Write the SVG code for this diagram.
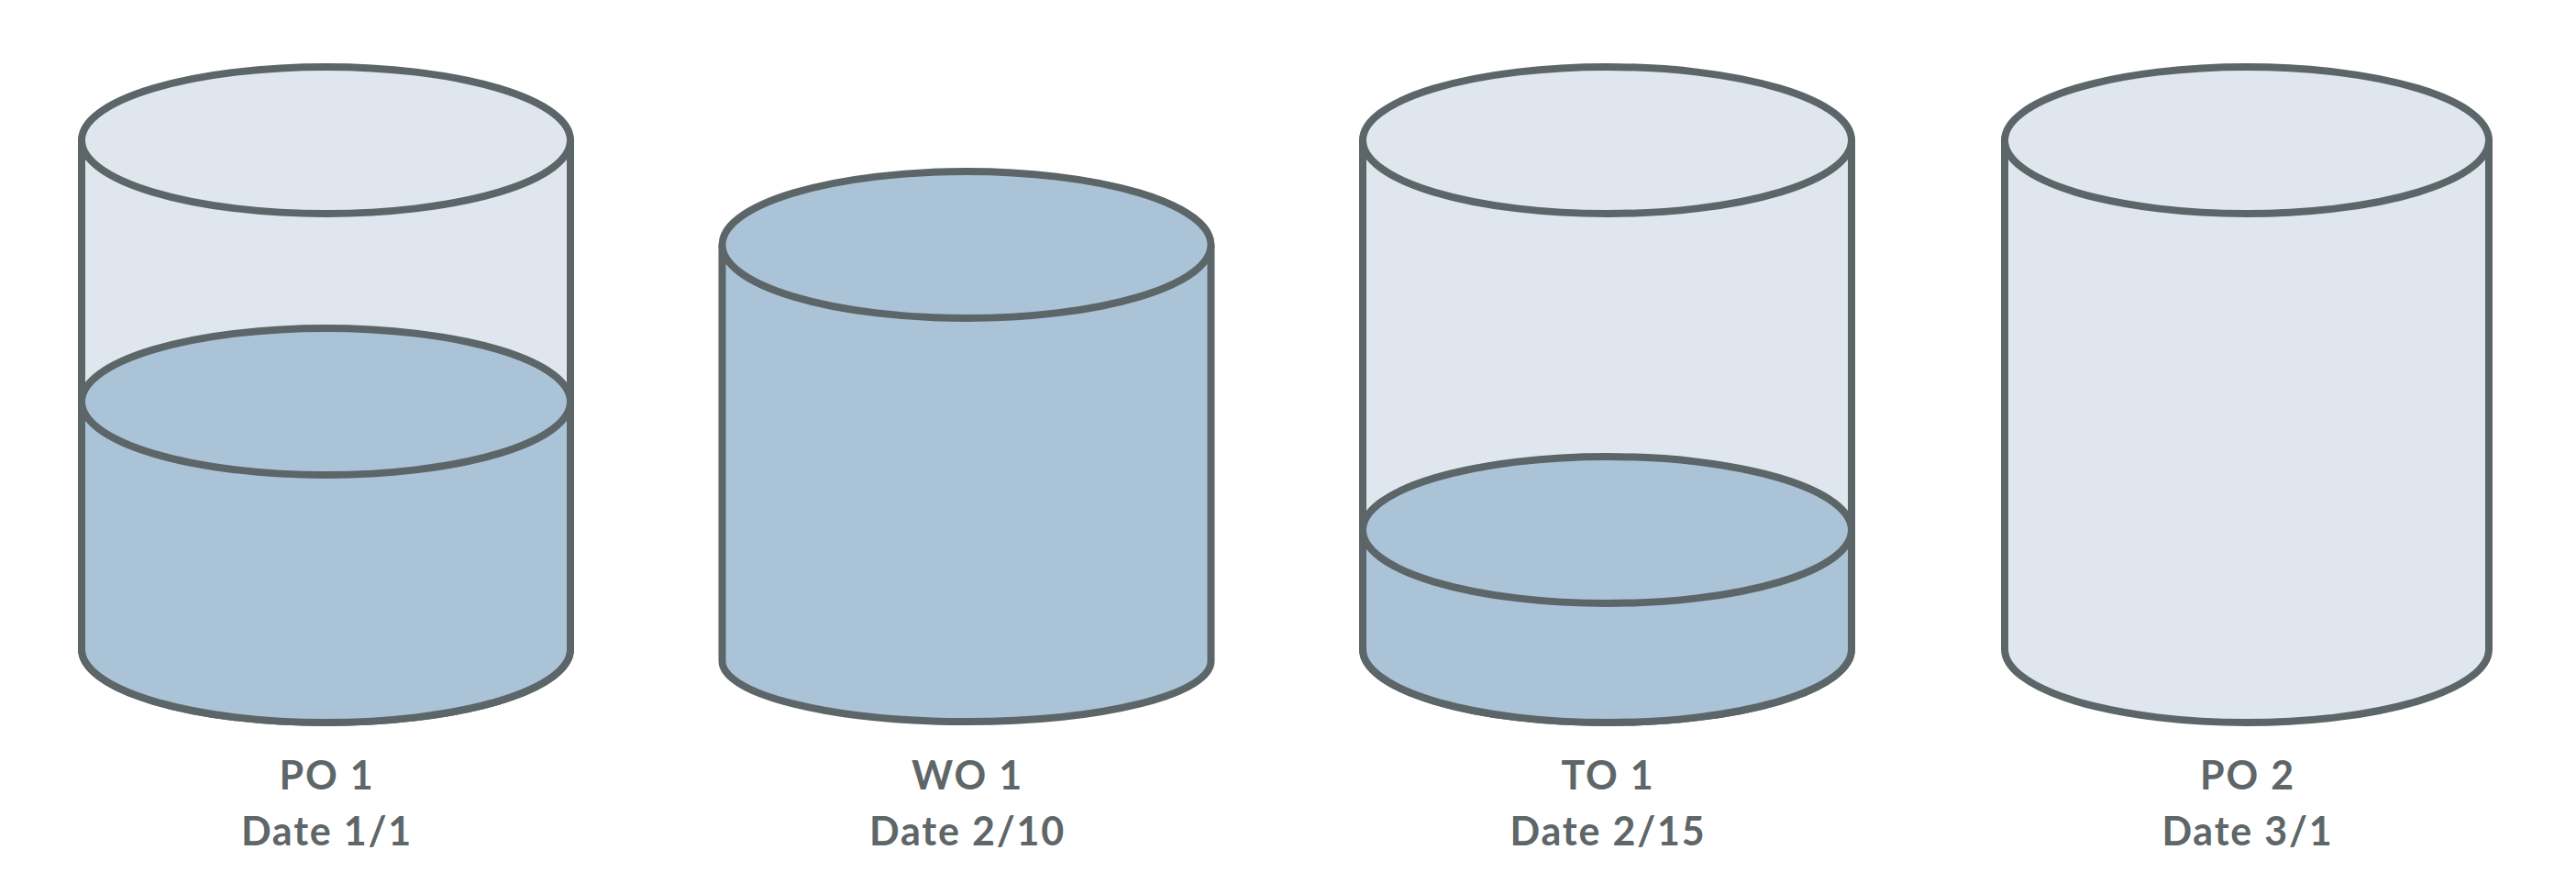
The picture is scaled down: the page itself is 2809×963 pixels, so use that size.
<svg xmlns="http://www.w3.org/2000/svg" width="2809" height="963" viewBox="0 0 2809 963">
<style>
.body{fill:#dfe6ee;stroke:#5c6568;stroke-width:8;stroke-linejoin:round}
.liq{fill:#abc3d6;stroke:none}
.liqtop{fill:#abc3d6;stroke:#5c6568;stroke-width:8}
.top{fill:#dfe6ee;stroke:#5c6568;stroke-width:8}
.outline{fill:none;stroke:#5c6568;stroke-width:8;stroke-linejoin:round}
.lbl{font-family:Lato,"Liberation Sans",sans-serif;font-weight:700;font-size:43px;letter-spacing:1.8px;fill:#5e6668;text-anchor:middle}
</style>
<rect width="2809" height="963" fill="#ffffff"/>
<g id="po1">
<path class="body" d="M89,153 L89,708 A266.5,80 0 0 0 622,708 L622,153 Z"/>
<path class="liq" d="M89,438 L89,708 A266.5,80 0 0 0 622,708 L622,438 Z"/>
<path class="outline" d="M89,153 L89,708 A266.5,80 0 0 0 622,708 L622,153"/>
<ellipse class="liqtop" cx="355.5" cy="438" rx="266.5" ry="80"/>
<ellipse class="top" cx="355.5" cy="153" rx="266.5" ry="80"/>
<text class="lbl" x="356.5" y="861">PO 1</text>
<text class="lbl" x="356.5" y="922">Date 1/1</text>
</g>
<g id="wo1">
<path class="liq" d="M787.5,267 L787.5,721 A266.5,66 0 0 0 1320.5,721 L1320.5,267 Z"/>
<path class="outline" d="M787.5,267 L787.5,721 A266.5,66 0 0 0 1320.5,721 L1320.5,267"/>
<ellipse class="liqtop" cx="1054" cy="267" rx="266.5" ry="80"/>
<text class="lbl" x="1055" y="861">WO 1</text>
<text class="lbl" x="1055" y="922">Date 2/10</text>
</g>
<g id="to1">
<path class="body" d="M1486,153 L1486,708 A266.5,80 0 0 0 2019,708 L2019,153 Z"/>
<path class="liq" d="M1486,578 L1486,708 A266.5,80 0 0 0 2019,708 L2019,578 Z"/>
<path class="outline" d="M1486,153 L1486,708 A266.5,80 0 0 0 2019,708 L2019,153"/>
<ellipse class="liqtop" cx="1752.5" cy="578" rx="266.5" ry="80"/>
<ellipse class="top" cx="1752.5" cy="153" rx="266.5" ry="80"/>
<text class="lbl" x="1753.5" y="861">TO 1</text>
<text class="lbl" x="1753.5" y="922">Date 2/15</text>
</g>
<g id="po2">
<path class="body" d="M2186,153 L2186,708 A264,80 0 0 0 2714,708 L2714,153 Z"/>
<ellipse class="top" cx="2450" cy="153" rx="264" ry="80"/>
<text class="lbl" x="2451" y="861">PO 2</text>
<text class="lbl" x="2451" y="922">Date 3/1</text>
</g>
<g id="connectors"/>
</svg>
